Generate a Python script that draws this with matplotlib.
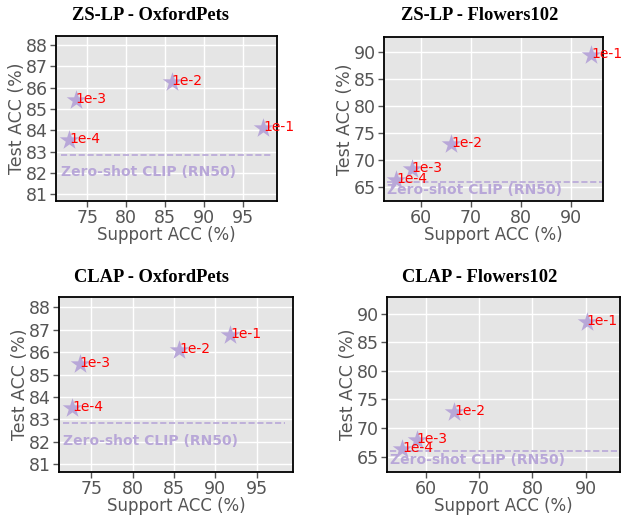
import matplotlib
matplotlib.use("Agg")
import matplotlib.pyplot as plt

plt.style.use("ggplot")
plt.rcParams['font.family'] = ['DejaVu Sans']

labels = ["1e-1", "1e-2", "1e-3", "1e-4"]

# Panel data: support accuracy (x) and test accuracy (y)
zslp_pets_x = [97.5, 85.8, 73.5, 72.7]
zslp_pets_y = [84.1, 86.25, 85.42, 83.55]
zslp_flowers_x = [94.1, 66.1, 58.2, 55.1]
zslp_flowers_y = [89.5, 73.0, 68.3, 66.3]
clap_pets_x = [91.8, 85.6, 73.6, 72.7]
clap_pets_y = [86.78, 86.1, 85.47, 83.53]
clap_flowers_x = [90.2, 65.3, 58.3, 55.6]
clap_flowers_y = [88.6, 72.8, 67.9, 66.3]

zs_pets = 82.83
zs_flowers = 66.0

titles = ["ZS-LP - OxfordPets", "ZS-LP - Flowers102", "CLAP - OxfordPets", "CLAP - Flowers102"]

W, H = 621, 516
fig = plt.figure(figsize=(W / 100, H / 100), dpi=100)

def rect(l, t, r, b):
    return [l / W, 1 - b / H, (r - l) / W, (b - t) / H]

panels = [
    dict(rect=rect(56, 36, 277, 201), x=zslp_pets_x, y=zslp_pets_y, zs=zs_pets,
         xlim=(71.0, 99.3), ylim=(80.69, 88.42), xticks=[75, 80, 85, 90, 95],
         yticks=[81, 82, 83, 84, 85, 86, 87, 88], line=(71.7, 98.5), toff=0.78, title_xy=(151, 16)),
    dict(rect=rect(384, 37, 603, 201), x=zslp_flowers_x, y=zslp_flowers_y, zs=zs_flowers,
         xlim=(52.67, 96.5), ylim=(62.4, 92.8), xticks=[60, 70, 80, 90],
         yticks=[65, 70, 75, 80, 85, 90], line=(53.3, 96.2), toff=1.65, title_xy=(480, 16)),
    dict(rect=rect(59, 297, 293, 472), x=clap_pets_x, y=clap_pets_y, zs=zs_pets,
         xlim=(71.07, 99.4), ylim=(80.66, 88.46), xticks=[75, 80, 85, 90, 95],
         yticks=[81, 82, 83, 84, 85, 86, 87, 88], line=(71.5, 98.4), toff=0.79, title_xy=(151, 277)),
    dict(rect=rect(387, 297, 620, 472), x=clap_flowers_x, y=clap_flowers_y, zs=zs_flowers,
         xlim=(52.75, 96.4), ylim=(62.3, 92.9), xticks=[60, 70, 80, 90],
         yticks=[65, 70, 75, 80, 85, 90], line=(53.3, 96.1), toff=1.64, title_xy=(480, 277)),
]

star_color = "#b8a7d8"

for p, title in zip(panels, titles):
    ax = fig.add_axes(p["rect"])
    ax.set_facecolor("#e5e5e5")
    ax.grid(True, color="white", linewidth=1.0)
    for s in ax.spines.values():
        s.set_visible(True)
        s.set_color("black")
        s.set_linewidth(1.3)
    ax.scatter(p["x"], p["y"], marker="*", s=220, color=star_color, zorder=3, linewidths=0)
    for xi, yi, lab in zip(p["x"], p["y"], labels):
        ax.annotate(lab, (xi, yi), xytext=(0, -3), textcoords="offset pixels",
                    color="red", fontsize=10, ha="left", va="baseline", zorder=4,
                    annotation_clip=False)
    ax.plot(list(p["line"]), [p["zs"], p["zs"]], linestyle="--", color=star_color,
            linewidth=1.2, zorder=2)
    ax.text(p["line"][0], p["zs"] - p["toff"], "Zero-shot CLIP (RN50)", color=star_color,
            fontsize=10, fontweight="bold", ha="left", va="center", zorder=3)
    ax.set_xlim(*p["xlim"])
    ax.set_ylim(*p["ylim"])
    ax.set_xticks(p["xticks"])
    ax.set_yticks(p["yticks"])
    ax.tick_params(axis="both", labelsize=12.5, colors="#555555", length=4, width=1,
                   direction="out", pad=2)
    ax.set_xlabel("Support ACC (%)", fontsize=12, color="#555555", labelpad=-1)
    ax.set_ylabel("Test ACC (%)", fontsize=12.5, color="#555555", labelpad=0)
    tx, ty = p["title_xy"]
    fig.text(tx / W, 1 - ty / H, title, ha="center", va="center",
             fontsize=13.3, fontweight="bold", family="Liberation Serif", color="black")

fig.savefig("out.png", dpi=100)
